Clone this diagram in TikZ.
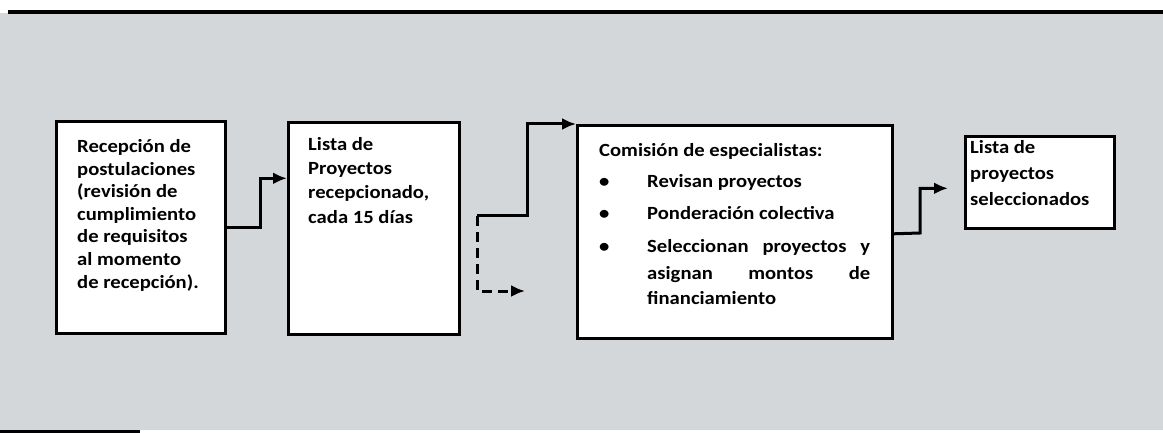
\documentclass[tikz,border=0pt]{standalone}
\usepackage{fontspec}
\newfontfamily\boxfont{Carlito}[FakeStretch=1.11]
\usetikzlibrary{arrows.meta}
\definecolor{bgc}{RGB}{212,215,218}
\tikzset{
  box/.style={draw=black, fill=white, line width=2.6pt, inner sep=0pt, anchor=north west},
  txt/.style={anchor=base west, inner sep=0pt, font=\boxfont\bfseries\fontsize{18.6}{21}\selectfont, text=black},
  arr/.style={draw=black, line width=3pt, -{Latex[length=14pt,width=12pt]}},
}
\begin{document}
\begin{tikzpicture}[x=1pt,y=-1pt]
\useasboundingbox (0,0) rectangle (1163,433);
\fill[bgc] (0,13) rectangle (1163,430);
\draw[line width=3.5pt] (8,12) -- (1163,12);
\draw[line width=3pt] (0,431) -- (140,431);

% boxes
\node[box, minimum width=169pt, minimum height=212pt] (b1) at (55,120) {};
\node[box, minimum width=171pt, minimum height=212pt] (b2) at (287,121) {};
\node[box, minimum width=315pt, minimum height=213pt] (b3) at (576,124) {};
\node[box, minimum width=149pt, minimum height=92pt] (b4) at (964,135) {};

% box 1 text
\foreach \t [count=\i from 0] in {{Recepción de},{postulaciones},{(revisión de},{cumplimiento},{de requisitos},{al momento},{de recepción).}}
  \node[txt] (ta\i) at (77,{153+22.5*\i}) {\t};

% box 2 text
\foreach \t [count=\i from 0] in {{Lista de},{Proyectos},{recepcionado,},{cada 15 días}}
  \node[txt] (tb\i) at (308,{151+24*\i}) {\t};

% box 3 text
\node[txt] (tc0) at (599,157) {Comisión de especialistas:};
\node[txt] (bu1) at (599,188) {\textbullet};
\node[txt] (bu2) at (599,220) {\textbullet};
\node[txt] (bu3) at (599,252) {\textbullet};
\node[txt] (tc1) at (647,188) {Revisan proyectos};
\node[txt] (tc2) at (647,220) {Ponderación colectiva};
\node[txt] (tc3) at (647,252) {\hbox to 223pt{Seleccionan\hfill proyectos\hfill y}};
\node[txt] (tc4) at (647,279) {\hbox to 223pt{asignan\hfill montos\hfill de}};
\node[txt] (tc5) at (647,304) {financiamiento};

% box 4 text
\foreach \t [count=\i from 0] in {{Lista de},{proyectos},{seleccionados}}
  \node[txt] (td\i) at (970,{154+26*\i}) {\t};

% connectors
\coordinate (s2) at (477,216);
\coordinate (d2) at (525,291);
\draw[arr] (b1.east) -- ++(34,0) |- ([yshift=50pt]b2.west);
\draw[arr] (s2) -- (527,216) |- (b3.north west);
\draw[arr, dashed, dash pattern=on 10pt off 6pt] (s2) -- (s2 |- d2) -- (d2);
\draw[arr] ([yshift=-2pt]b3.east) -- (920,233) |- ([xshift=-16pt,yshift=-6pt]b4.west);
\end{tikzpicture}
\end{document}
